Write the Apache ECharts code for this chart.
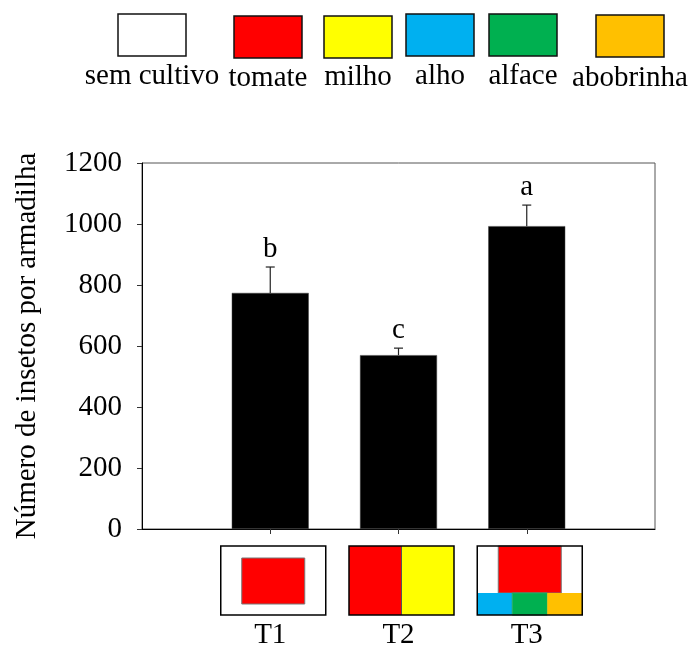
<!DOCTYPE html>
<html>
<head>
<meta charset="utf-8">
<script src="https://cdn.jsdelivr.net/npm/echarts@6/dist/echarts.min.js"></script>
<style>
html,body{margin:0;padding:0;background:#fff}
#main{width:690px;height:646px}
</style>
</head>
<body>
<div id="main"></div>
<script>
// dados
var categories = ['', 'T1', 'T2', 'T3', ''];
var means = [null, 774, 570, 993, null];
var upper = [null, 859, 593, 1062, null];
var letters = ['', 'b', 'c', 'a', ''];
var legendNames = ['sem cultivo', 'tomate', 'milho', 'alho', 'alface', 'abobrinha'];

var FONT = '"Liberation Serif", "Times New Roman", serif';
var FS = 29;
var cropColor = {
    'sem cultivo': '#ffffff',
    'tomate': '#ff0000',
    'milho': '#ffff00',
    'alho': '#00b0f0',
    'alface': '#00b050',
    'abobrinha': '#ffc000'
};
var legendX = [152, 268, 358, 440, 523, 630];
var legendTop = [14, 16, 16, 14, 14, 15];
var legendBase = [82, 84, 83, 82, 82, 84];

var errData = [];
for (var i = 0; i < means.length; i++) {
    if (means[i] != null) errData.push([i, means[i], upper[i]]);
}

var chart = echarts.init(document.getElementById('main'));

var option = {
    animation: false,
    backgroundColor: '#fff',
    grid: {
        left: 142, top: 163, right: 35, bottom: 117,
        outerBoundsMode: 'none',
        containLabel: false,
        show: true, borderColor: '#555', borderWidth: 1
    },
    xAxis: {
        type: 'category',
        data: categories,
        boundaryGap: false,
        axisLine: {lineStyle: {color: '#000', width: 1}},
        axisTick: {
            length: 5,
            lineStyle: {color: '#333'},
            interval: function (idx) { return idx > 0 && idx < categories.length - 1; }
        },
        axisLabel: {
            margin: 92,
            color: '#000',
            fontSize: FS,
            fontFamily: FONT,
            interval: 0
        },
        splitLine: {show: false}
    },
    yAxis: {
        type: 'value',
        min: 0, max: 1200, interval: 200,
        name: 'Número de insetos por armadilha',
        nameLocation: 'middle',
        nameRotate: 90,
        nameGap: 100,
        nameTextStyle: {color: '#000', fontSize: FS, fontFamily: FONT},
        axisLine: {show: true, lineStyle: {color: '#000', width: 1}},
        axisTick: {show: true, length: 5, lineStyle: {color: '#333'}},
        axisLabel: {
            margin: 20, color: '#000', fontSize: FS, fontFamily: FONT,
            formatter: function (v) { return String(v); }
        },
        splitLine: {show: false}
    },
    series: [
        {
            type: 'bar',
            data: means,
            barWidth: 77,
            itemStyle: {color: '#000', borderColor: '#444', borderWidth: 0.5}
        },
        {
            type: 'custom',
            data: errData,
            z: 3,
            renderItem: function (params, api) {
                var idx = api.value(0);
                var base = api.coord([idx, api.value(1)]);
                var top = api.coord([idx, api.value(2)]);
                var x = base[0];
                return {
                    type: 'group',
                    children: [
                        {type: 'line', shape: {x1: x, y1: base[1], x2: x, y2: top[1]},
                         style: {stroke: '#222', lineWidth: 1.2}},
                        {type: 'line', shape: {x1: x - 4.5, y1: top[1], x2: x + 4.5, y2: top[1]},
                         style: {stroke: '#222', lineWidth: 1.2}},
                        {type: 'text', x: x, y: top[1] - 3,
                         style: {text: letters[idx], textAlign: 'center', textVerticalAlign: 'bottom',
                                 font: FS + 'px ' + FONT, fill: '#000'}}
                    ]
                };
            }
        }
    ]
};
chart.setOption(option);

// legenda de culturas
var graphics = [];
legendNames.forEach(function (n, k) {
    graphics.push({
        type: 'rect',
        shape: {x: legendX[k] - 34, y: legendTop[k], width: 68, height: 42},
        style: {fill: cropColor[n], stroke: '#111', lineWidth: 1.5}
    });
    graphics.push({
        type: 'text',
        x: legendX[k], y: legendBase[k] - 6,
        style: {text: n, textAlign: 'center', textVerticalAlign: 'middle',
                font: FS + 'px ' + FONT, fill: '#000'}
    });
});

// croquis dos tratamentos
function r(x, y, w, h, fill, stroke) {
    return {type: 'rect', shape: {x: x, y: y, width: w, height: h},
            style: {fill: fill, stroke: stroke || null, lineWidth: stroke ? 1 : 0}};
}
function icon(t, cx, top) {
    var W = 105, H = 69, L = cx - W / 2, c = [];
    if (t === 'T1') {
        c.push(r(L, top, W, H, cropColor['sem cultivo']));
        c.push(r(L + 21, top + 12, 63, 46, cropColor['tomate'], '#777'));
    } else if (t === 'T2') {
        c.push(r(L, top, W / 2, H, cropColor['tomate']));
        c.push(r(L + W / 2, top, W / 2, H, cropColor['milho']));
        c.push({type: 'line', shape: {x1: L + W / 2, y1: top, x2: L + W / 2, y2: top + H},
                style: {stroke: '#555', lineWidth: 1}});
    } else {
        c.push(r(L, top, W, H, cropColor['sem cultivo']));
        c.push(r(L + 21, top, 63, 47, cropColor['tomate'], '#777'));
        c.push(r(L, top + 47, W / 3, H - 47, cropColor['alho']));
        c.push(r(L + W / 3, top + 47, W / 3, H - 47, cropColor['alface'], '#2a6'));
        c.push(r(L + 2 * W / 3, top + 47, W / 3, H - 47, cropColor['abobrinha']));
    }
    c.push({type: 'rect', shape: {x: L, y: top, width: W, height: H},
            style: {fill: null, stroke: '#000', lineWidth: 1.5}});
    return {type: 'group', children: c};
}
categories.forEach(function (t, k) {
    if (!t) return;
    var p = chart.convertToPixel({xAxisIndex: 0, yAxisIndex: 0}, [k, 0]);
    graphics.push(icon(t, p[0] + 3, p[1] + 17));
});

chart.setOption({graphic: graphics});
</script>
</body>
</html>
